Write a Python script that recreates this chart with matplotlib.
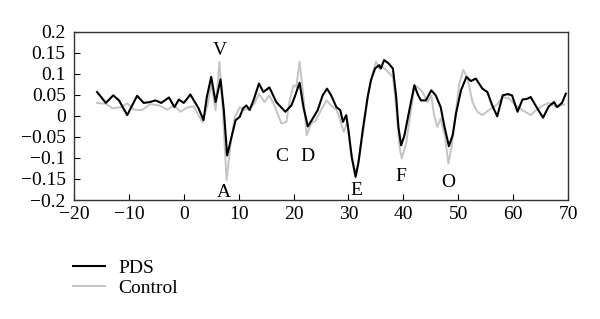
import matplotlib.pyplot as plt

plt.rcParams['font.family'] = ['Liberation Serif', 'DejaVu Serif']
plt.rcParams['font.size'] = 14

# PDS curve (black)
pds_x = [-15.8, -14.2, -12.85, -11.8, -10.3, -8.5, -7.3, -6.2, -5.15, -4.1, -2.7, -1.7, -0.9, 0.0,
         1.2, 2.7, 3.6, 4.2, 5.0, 5.8, 6.7, 7.3, 7.9, 8.7, 9.45, 10.2, 10.8, 11.4, 12.0, 12.7,
         13.7, 14.5, 15.6, 16.85, 18.5, 19.6, 20.2, 21.1, 21.8, 22.6, 23.5, 24.4, 25.3, 26.1,
         26.85, 27.8, 28.5, 29.0, 29.6, 30.0, 30.6, 31.3, 31.8, 32.6, 33.5, 34.1, 34.85, 35.6,
         35.9, 36.5, 37.3, 38.1, 38.7, 39.1, 39.6, 40.2, 41.1, 42.0, 42.7, 43.2, 44.1, 45.1,
         45.9, 46.8, 47.5, 48.3, 49.0, 49.6, 50.5, 51.5, 52.3, 53.2, 54.4, 55.3, 56.2, 57.1,
         58.1, 59.0, 59.8, 60.8, 61.7, 62.6, 63.2, 64.4, 65.45, 66.5, 67.45, 68.0, 68.9, 69.6]
pds_y = [0.057, 0.031, 0.049, 0.037, 0.002, 0.048, 0.031, 0.033, 0.037, 0.031, 0.044, 0.021, 0.039, 0.031,
         0.051, 0.018, -0.010, 0.045, 0.093, 0.033, 0.087, 0.014, -0.094, -0.050, -0.010, -0.002, 0.018, 0.025, 0.014, 0.037,
         0.077, 0.057, 0.068, 0.033, 0.010, 0.025, 0.045, 0.079, 0.021, -0.025, -0.006, 0.014, 0.049, 0.065,
         0.049, 0.021, 0.014, -0.014, 0.002, -0.034, -0.098, -0.145, -0.113, -0.034, 0.045, 0.085, 0.113, 0.121,
         0.113, 0.133, 0.125, 0.113, 0.045, -0.026, -0.070, -0.046, 0.014, 0.073, 0.049, 0.037, 0.037, 0.061,
         0.049, 0.021, -0.026, -0.072, -0.045, 0.006, 0.061, 0.093, 0.083, 0.089, 0.065, 0.057, 0.025, -0.001,
         0.049, 0.052, 0.049, 0.010, 0.039, 0.041, 0.045, 0.018, -0.004, 0.023, 0.033, 0.021, 0.031, 0.053]

# Control curve (grey)
ctrl_x = [-15.8, -14.2, -13.0, -11.5, -10.3, -9.1, -7.6, -6.1, -4.5, -3.0, -1.8, -0.6, 0.6, 1.8,
          3.4, 4.4, 5.0, 5.8, 6.5, 7.1, 7.8, 8.5, 9.3, 10.2, 11.0, 12.0, 12.9, 13.7, 14.7, 15.6,
          16.5, 17.8, 18.7, 19.3, 20.0, 20.5, 21.1, 21.8, 22.4, 23.2, 24.1, 25.0, 26.0, 26.85,
          27.8, 28.4, 29.15, 29.8, 30.5, 31.3, 32.0, 32.8, 33.6, 34.4, 35.0, 35.6, 36.2, 37.2,
          38.1, 38.7, 39.3, 39.7, 40.5, 41.4, 42.1, 42.9, 43.5, 44.4, 45.1, 45.6, 46.2, 46.8,
          47.6, 48.2, 48.8, 49.3, 50.2, 50.9, 51.7, 52.6, 53.5, 54.4, 55.6, 56.9, 58.1, 59.3,
          60.5, 61.7, 63.2, 64.2, 65.45, 66.5, 67.7, 69.3]
ctrl_y = [0.031, 0.029, 0.018, 0.021, 0.030, 0.015, 0.014, 0.028, 0.025, 0.015, 0.025, 0.010, 0.020, 0.023,
          -0.015, 0.030, 0.077, 0.014, 0.129, 0.014, -0.153, -0.070, -0.002, 0.021, 0.014, 0.018, 0.030, 0.053, 0.033, 0.049,
          0.025, -0.018, -0.014, 0.037, 0.073, 0.069, 0.129, 0.045, -0.046, -0.018, -0.010, 0.014, 0.037, 0.025,
          0.015, -0.006, -0.038, -0.014, -0.090, -0.137, -0.098, -0.026, 0.053, 0.101, 0.129, 0.113, 0.117, 0.105,
          0.093, 0.021, -0.074, -0.101, -0.066, 0.014, 0.073, 0.065, 0.057, 0.033, 0.049, 0.002, -0.026, -0.006,
          -0.050, -0.113, -0.074, -0.018, 0.077, 0.110, 0.089, 0.033, 0.010, 0.002, 0.014, 0.025, 0.045, 0.041,
          0.025, 0.014, 0.002, 0.014, 0.025, 0.031, 0.023, 0.027]

# peak labels
peak_names = ['V', 'A', 'C', 'D', 'E', 'F', 'O']
peak_x = [6.5, 7.3, 17.8, 22.6, 31.5, 39.6, 48.2]
peak_y = [0.156, -0.182, -0.096, -0.096, -0.177, -0.145, -0.158]

xticks = [-20, -10, 0, 10, 20, 30, 40, 50, 60, 70]
yticks = [0.2, 0.15, 0.1, 0.05, 0, -0.05, -0.1, -0.15, -0.2]
ytick_labels = ['0.2', '0.15', '0.1', '0.05', '0', '\u22120.05', '\u22120.1', '\u22120.15', '\u22120.2']

fig = plt.figure(figsize=(6, 3.19), dpi=100)
ax = fig.add_axes([0.1233, 0.373, 0.8234, 0.527])

ax.plot(ctrl_x, ctrl_y, color='#c4c4c4', lw=1.4, label='Control')
ax.plot(pds_x, pds_y, color='black', lw=1.5, label='PDS')

for n, px, py in zip(peak_names, peak_x, peak_y):
    ax.text(px, py, n, ha='center', va='center', fontsize=14)

ax.set_xlim(-20, 70)
ax.set_ylim(-0.2, 0.2)
ax.set_xticks(xticks)
ax.set_xticklabels([str(t).replace('-', '\u2212') for t in xticks])
ax.set_yticks(yticks)
ax.set_yticklabels(ytick_labels)
ax.tick_params(axis='x', direction='in', length=4, pad=4)
ax.tick_params(axis='y', direction='in', length=4, pad=6)
for s in ax.spines.values():
    s.set_color('#333333')
    s.set_linewidth(1.0)

h, l = ax.get_legend_handles_labels()
fig.legend([h[1], h[0]], [l[1], l[0]], loc='upper left', bbox_to_anchor=(0.121, 0.187),
           frameon=False, handlelength=1.65, handletextpad=0.72, labelspacing=0.13,
           borderpad=0, borderaxespad=0)

fig.savefig('out.png', dpi=100)
